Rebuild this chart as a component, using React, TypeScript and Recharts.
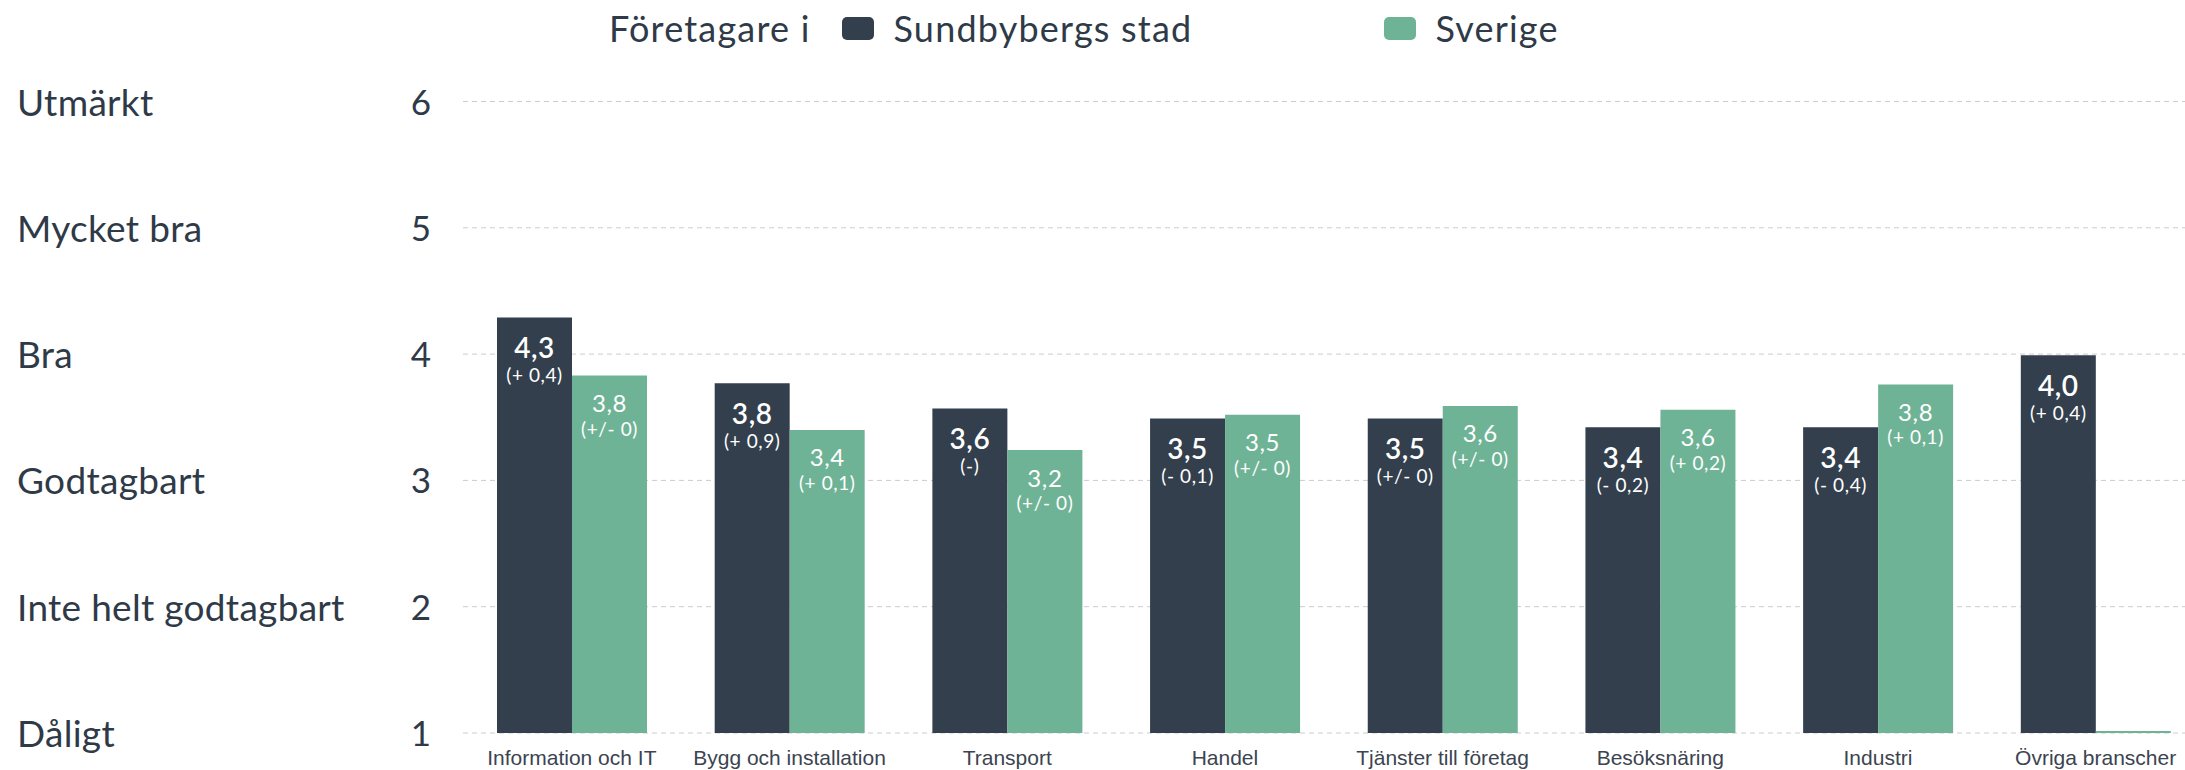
import { BarChart, Bar, XAxis, YAxis, CartesianGrid, LabelList } from "recharts";

const categories = [
  "Information och IT",
  "Bygg och installation",
  "Transport",
  "Handel",
  "Tjänster till företag",
  "Besöksnäring",
  "Industri",
  "Övriga branscher",
];

const sundbyberg = [4.29, 3.77, 3.57, 3.49, 3.49, 3.42, 3.42, 3.99];
const sverige = [3.83, 3.4, 3.24, 3.52, 3.59, 3.56, 3.76, 1];

const sundbybergLabels = ["4,3", "3,8", "3,6", "3,5", "3,5", "3,4", "3,4", "4,0"];
const sundbybergChange = ["(+ 0,4)", "(+ 0,9)", "(-)", "(- 0,1)", "(+/- 0)", "(- 0,2)", "(- 0,4)", "(+ 0,4)"];
const sverigeLabels = ["3,8", "3,4", "3,2", "3,5", "3,6", "3,6", "3,8", ""];
const sverigeChange = ["(+/- 0)", "(+ 0,1)", "(+/- 0)", "(+/- 0)", "(+/- 0)", "(+ 0,2)", "(+ 0,1)", ""];

const yTicks = [1, 2, 3, 4, 5, 6];
const yNames = ["Dåligt", "Inte helt godtagbart", "Godtagbart", "Bra", "Mycket bra", "Utmärkt"];

const DARK = "#333F4D";
const GREEN = "#6FB396";
const TEXT = "#2F3A48";
const FONT = "Lato, 'Noto Sans', sans-serif";

const data = categories.map((name, i) => ({
  name,
  sund: sundbyberg[i],
  sve: sverige[i],
  sundLabel: sundbybergLabels[i],
  sveLabel: sverigeLabels[i],
}));

function YTick(props: any) {
  const { y, payload } = props;
  const idx = yTicks.indexOf(payload.value);
  return (
    <g>
      <text x={17} y={y + 14} fontSize={37} fill={TEXT} fontFamily={FONT} letterSpacing={0.3}>
        {yNames[idx]}
      </text>
      <text x={431} y={y + 13} fontSize={35} fill={TEXT} fontFamily={FONT} textAnchor="end">
        {payload.value}
      </text>
    </g>
  );
}

function XTick(props: any) {
  const { x, y, payload } = props;
  return (
    <text
      x={x}
      y={y + 32}
      fontSize={21}
      fill="#3B4450"
      fontFamily="'Liberation Sans', Arial, sans-serif"
      textAnchor="middle"
    >
      {payload.value}
    </text>
  );
}

function darkLabel(props: any) {
  const { x, y, width, index, value } = props;
  const cx = x + width / 2;
  return (
    <g>
      <text x={cx} y={y + 40.5} textAnchor="middle" fontSize={28} fontWeight={600} fill="#fff" fontFamily={FONT} letterSpacing={0.6}>
        {value}
      </text>
      <text x={cx} y={y + 64.5} textAnchor="middle" fontSize={19} fill="#fff" fontFamily={FONT} letterSpacing={0.6}>
        {sundbybergChange[index]}
      </text>
    </g>
  );
}

function greenLabel(props: any) {
  const { x, y, width, index, value } = props;
  if (!value) return null;
  const cx = x + width / 2;
  return (
    <g>
      <text x={cx} y={y + 36.5} textAnchor="middle" fontSize={24} fill="#fff" fontFamily={FONT} letterSpacing={0.6}>
        {value}
      </text>
      <text x={cx} y={y + 60} textAnchor="middle" fontSize={19} fill="#fff" fontFamily={FONT} letterSpacing={0.6}>
        {sverigeChange[index]}
      </text>
    </g>
  );
}

function Swatch({ color }: { color: string }) {
  return (
    <span
      style={{
        display: "inline-block",
        width: 32,
        height: 23,
        borderRadius: 5,
        background: color,
      }}
    />
  );
}

export default function App() {
  return (
    <div
      style={{
        position: "absolute",
        left: 0,
        top: 0,
        width: 2185,
        height: 770,
        overflow: "hidden",
        background: "#fff",
      }}
    >
      <div
        style={{
          position: "absolute",
          left: 609,
          top: 8,
          display: "flex",
          alignItems: "center",
          fontFamily: FONT,
          fontSize: 36,
          lineHeight: "40px",
          letterSpacing: 1.2,
          color: TEXT,
          whiteSpace: "nowrap",
        }}
      >
        <span style={{ marginRight: 31 }}>Företagare i</span>
        <Swatch color={DARK} />
        <span style={{ marginLeft: 20, marginRight: 192 }}>Sundbybergs stad</span>
        <Swatch color={GREEN} />
        <span style={{ marginLeft: 19 }}>Sverige</span>
      </div>
      <BarChart
        width={2210}
        height={770}
        data={data}
        margin={{ top: 101.5, right: 5.5, bottom: 0, left: 0 }}
        barGap={0}
        barSize={75}
      >
        <CartesianGrid vertical={false} stroke="#cccccc" strokeDasharray="5 4" />
        <XAxis
          dataKey="name"
          height={37}
          axisLine={false}
          tickLine={false}
          tickSize={0}
          tickMargin={0}
          interval={0}
          tick={<XTick />}
        />
        <YAxis
          type="number"
          domain={[1, 6]}
          ticks={yTicks}
          width={463}
          axisLine={false}
          tickLine={false}
          tick={<YTick />}
          allowDataOverflow
        />
        <Bar dataKey="sund" fill={DARK} isAnimationActive={false}>
          <LabelList dataKey="sundLabel" content={darkLabel} />
        </Bar>
        <Bar dataKey="sve" fill={GREEN} minPointSize={2} isAnimationActive={false}>
          <LabelList dataKey="sveLabel" content={greenLabel} />
        </Bar>
      </BarChart>
    </div>
  );
}
